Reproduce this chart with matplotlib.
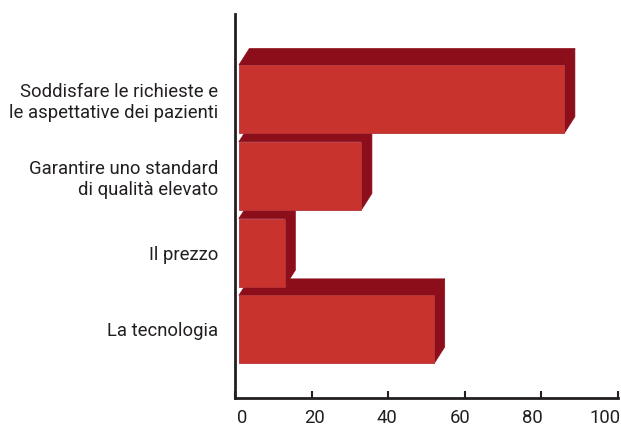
import matplotlib.pyplot as plt
from matplotlib.patches import Polygon

# data
categories = ['Soddisfare le richieste e\nle aspettative dei pazienti',
              'Garantire uno standard\ndi qualità elevato',
              'Il prezzo',
              'La tecnologia']
values = [85, 32, 12, 51]
xticks = [0, 20, 40, 60, 80, 100]

front = '#C8332D'
dark = '#8C0E1B'
ink = '#231F20'

plt.rcParams['font.family'] = ['Roboto', 'DejaVu Sans']

W, H = 621, 428
fig = plt.figure(figsize=(W / 100, H / 100), dpi=100)
ax = fig.add_axes([235 / W, 30 / H, 383 / W, 384 / H])

h = 0.887      # front face height
x0 = 1.0       # small gap between spine and bars
dx = 2.75      # depth offset in x (data units)
dy = 0.215     # depth offset in y (category units)

# draw bottom bar first so upper bars cover the top faces below them
n = len(values)
for i in reversed(range(n)):
    v = values[i]
    z = 10 + (n - i) * 3
    yt = i - h / 2
    yb = i + h / 2
    ax.barh(i, v, height=h, left=x0, color=front, edgecolor='#b8343a',
            linewidth=0.6, zorder=z + 2)
    top = Polygon([(x0, yt), (x0 + v, yt), (x0 + v + dx, yt - dy), (x0 + dx, yt - dy)],
                  closed=True, facecolor=dark, edgecolor=dark, linewidth=0.5, zorder=z)
    side = Polygon([(x0 + v, yt), (x0 + v + dx, yt - dy), (x0 + v + dx, yb - dy), (x0 + v, yb)],
                   closed=True, facecolor=dark, edgecolor=dark, linewidth=0.5, zorder=z + 1)
    ax.add_patch(top)
    ax.add_patch(side)

ax.set_xlim(0, 100)
ax.set_ylim(3.893, -1.108)

ax.set_yticks(range(n))
ax.set_yticklabels(categories, fontsize=13.3, linespacing=1.2, color=ink)
ax.tick_params(axis='y', length=0, pad=12)
ax.get_yticklabels()[0].set_y(-0.06)

ax.set_xticks(xticks)
ax.tick_params(axis='x', direction='in', length=5, width=1.5, labelbottom=False, color=ink)

for s in ['top', 'right']:
    ax.spines[s].set_visible(False)
for s in ['left', 'bottom']:
    ax.spines[s].set_linewidth(2)
    ax.spines[s].set_color(ink)
    ax.spines[s].set_zorder(1)

# tick numbers sit on a slightly narrower scale than the tick marks, as in the original
lab = fig.add_axes([242 / W, 30 / H, 363 / W, 0.001])
lab.set_xlim(0, 100)
lab.set_xticks(xticks)
lab.set_xticklabels([str(t) for t in xticks], fontsize=13.3, color=ink)
lab.tick_params(axis='x', length=0, pad=8)
lab.set_yticks([])
lab.patch.set_visible(False)
for s in lab.spines.values():
    s.set_visible(False)

fig.savefig('out.png', dpi=100)
